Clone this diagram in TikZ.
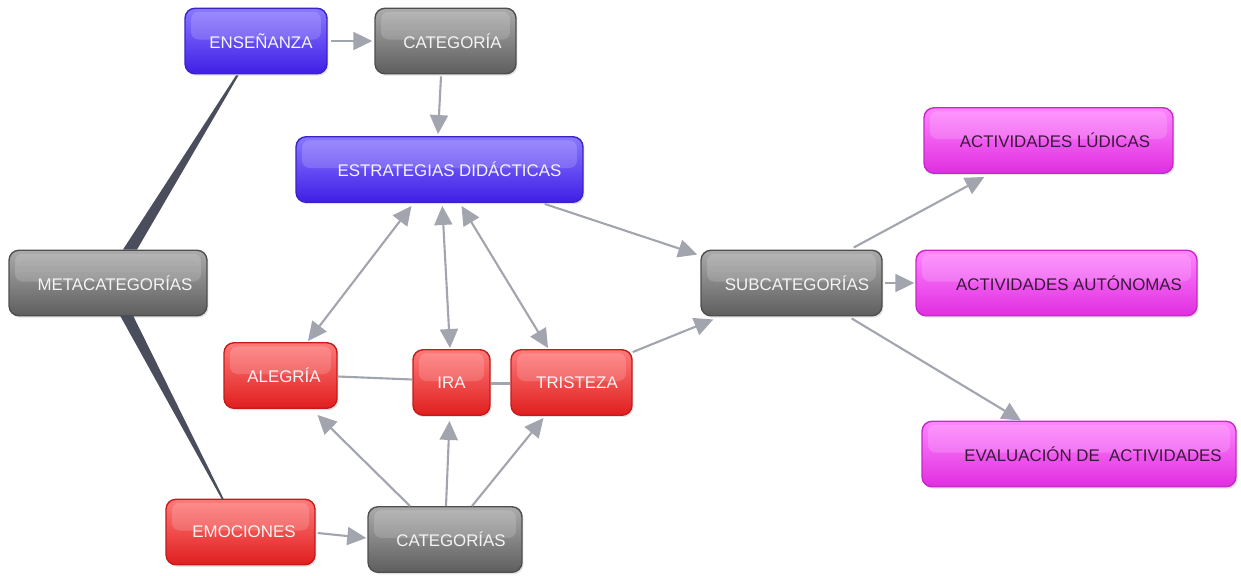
\documentclass[tikz,border=0pt]{standalone}
\usepackage{fontspec}
\setmainfont{Liberation Sans}
\usetikzlibrary{arrows.meta,calc,shadows}
\definecolor{bluetop}{HTML}{8A78FF}
\definecolor{bluebot}{HTML}{3F1FE6}
\definecolor{blueedge}{HTML}{3A22C8}
\definecolor{graytop}{HTML}{ABABAB}
\definecolor{graybot}{HTML}{5E5E5E}
\definecolor{grayedge}{HTML}{4E4E4E}
\definecolor{redtop}{HTML}{FF7A7A}
\definecolor{redbot}{HTML}{E01E1E}
\definecolor{rededge}{HTML}{C41A1A}
\definecolor{magtop}{HTML}{FF85FF}
\definecolor{magbot}{HTML}{E02EE0}
\definecolor{magedge}{HTML}{C828C8}
\definecolor{conncol}{HTML}{A2A5AE}
\definecolor{wedgecol}{HTML}{4A4E5C}
\definecolor{lighttext}{HTML}{F4F4F4}
\definecolor{darktext}{HTML}{3A1A3A}
\newcommand\boxfont{\fontsize{9.6}{11}\selectfont}
\newcommand\shft[1]{\hspace*{#1}}
\tikzset{
  box/.style={rounded corners=0.2cm, minimum height=1.31cm, inner sep=0pt,
    font=\boxfont, line width=0.8pt,
    drop shadow={opacity=0.22, shadow xshift=0.03cm, shadow yshift=-0.04cm},
    path picture={\fill[white,opacity=0.16,rounded corners=0.15cm]
      ([xshift=0.12cm,yshift=-0.07cm]path picture bounding box.north west)
      rectangle ([xshift=-0.12cm,yshift=0.03cm]path picture bounding box.east);}},
  bluebox/.style={box, top color=bluetop, bottom color=bluebot, draw=blueedge, text=lighttext},
  graybox/.style={box, top color=graytop, bottom color=graybot, draw=grayedge, text=lighttext},
  redbox/.style={box, top color=redtop, bottom color=redbot, draw=rededge, text=lighttext},
  magbox/.style={box, top color=magtop, bottom color=magbot, draw=magedge, text=darktext},
  conn/.style={draw=conncol, line width=1.2pt},
  arr/.style={conn, -{Triangle[length=0.38cm,width=0.36cm]}},
  darr/.style={conn, {Triangle[length=0.38cm,width=0.36cm]}-{Triangle[length=0.38cm,width=0.36cm]}},
  wedge/.style={fill=wedgecol, draw=none}
}
\begin{document}
\begin{tikzpicture}[x=0.02cm,y=-0.02cm]
\useasboundingbox (0,0) rectangle (1241,575);
% nodes
\node[bluebox, minimum width=2.84cm] (ens) at (256,41) {\shft{0.2cm}ENSEÑANZA};
\node[graybox, minimum width=2.82cm] (cat) at (445.5,41) {\shft{0.28cm}CATEGORÍA};
\node[bluebox, minimum width=5.74cm] (est) at (439.5,169.5) {\shft{0.4cm}ESTRATEGIAS DIDÁCTICAS};
\node[graybox, minimum width=3.96cm] (meta) at (108,283) {\shft{0.28cm}METACATEGORÍAS};
\node[redbox, minimum width=2.26cm] (aleg) at (280.5,375.5) {\shft{0.14cm}ALEGRÍA};
\node[redbox, minimum width=1.54cm] (ira) at (451.5,382.5) {IRA};
\node[redbox, minimum width=2.42cm] (tris) at (571.5,382.5) {\shft{0.22cm}TRISTEZA};
\node[redbox, minimum width=2.98cm] (emo) at (240.5,532) {\shft{0.14cm}EMOCIONES};
\node[graybox, minimum width=3.08cm] (cats) at (445,539.5) {\shft{0.24cm}CATEGORÍAS};
\node[graybox, minimum width=3.62cm] (sub) at (791.5,283) {\shft{0.22cm}SUBCATEGORÍAS};
\node[magbox, minimum width=4.98cm] (lud) at (1048.5,140.5) {\shft{0.26cm}ACTIVIDADES LÚDICAS};
\node[magbox, minimum width=5.62cm] (aut) at (1056.5,283) {\shft{0.5cm}ACTIVIDADES AUTÓNOMAS};
\node[magbox, minimum width=6.28cm] (eva) at (1079,454) {\shft{0.56cm}EVALUACIÓN DE\ \ ACTIVIDADES};
% wedges
\fill[wedge] ($(ens.south)+(-20,1)$) -- ($(ens.south)+(-17.5,1)$) -- ($(meta.north)+(29,0)$) -- ($(meta.north)+(15,0)$) -- cycle;
\fill[wedge] ($(meta.south)+(12,-1)$) -- ($(meta.south)+(25,-1)$) -- ($(emo.north)+(-16.5,1)$) -- ($(emo.north)+(-18.5,1)$) -- cycle;
% connectors
\draw[arr] ($(ens.east)+(3,0)$) -- ($(cat.west)+(-2,0)$);
\draw[arr] ($(cat.south)+(-4.5,2)$) -- ($(est.north)+(-1.5,-2)$);
\draw[darr] ($(est.south)+(-28,3)$) -- ($(aleg.north)+(27.5,-1)$);
\draw[darr] ($(est.south)+(2.8,3)$) -- ($(ira.north)+(-1.5,-1)$);
\draw[darr] ($(est.south)+(22,3)$) -- ($(tris.north)+(-23.5,-1)$);
\draw[arr] ($(est.south east)+(-39,1)$) -- ($(sub.north west)+(-3,5)$);
\draw[arr] ($(tris.north east)+(0,3)$) -- ($(sub.south west)+(13,3)$);
\draw[conn] ($(aleg.east)+(0,1)$) -- ($(ira.west)+(0,-3)$);
\draw[conn] ($(ira.east)+(0,1)$) -- ($(tris.west)+(0,1)$);
\draw[arr] ($(cats.north)+(-35,0)$) -- ($(aleg.south)+(37,6)$);
\draw[arr] ($(cats.north)+(1,0)$) -- ($(ira.south)+(-2,5)$);
\draw[arr] ($(cats.north)+(27,0)$) -- ($(tris.south)+(-28,2)$);
\draw[arr] ($(emo.east)+(2,1)$) -- ($(cats.west)+(-1,-1.5)$);
\draw[arr] ($(sub.north east)+(-29,-2)$) -- ($(lud.south west)+(61,3)$);
\draw[arr] ($(sub.east)+(2,0)$) -- ($(aut.west)+(-1,0)$);
\draw[arr] ($(sub.south east)+(-31,2)$) -- ($(eva.north)+(-58,0)$);
\end{tikzpicture}
\end{document}
